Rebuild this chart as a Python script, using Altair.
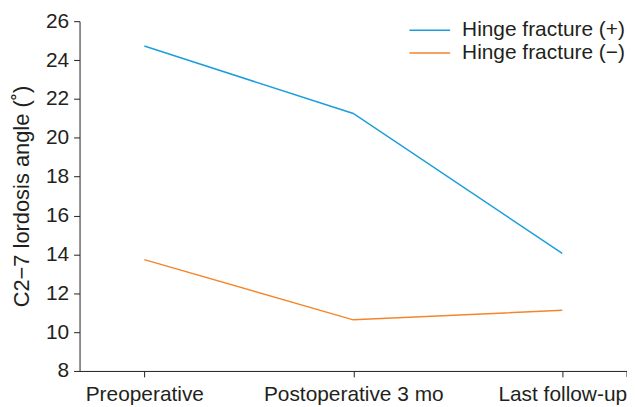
import altair as alt
import pandas as pd

timepoints = ["Preoperative", "Postoperative 3 mo", "Last follow-up"]
series = ["Hinge fracture (+)", "Hinge fracture (\u2212)"]
hinge_plus = [24.72, 21.25, 14.05]
hinge_minus = [13.73, 10.63, 11.12]
colors = ["#1b9fdc", "#f5852a"]
y_ticks = [8, 10, 12, 14, 16, 18, 20, 22, 24, 26]

rows = []
for t, v in zip(timepoints, hinge_plus):
    rows.append({"time": t, "series": series[0], "value": v})
for t, v in zip(timepoints, hinge_minus):
    rows.append({"time": t, "series": series[1], "value": v})
df = pd.DataFrame(rows)

W, H = 551, 352
FONT = "Liberation Sans"
INK = "#231f20"
FS = 21

lines = alt.Chart(df).mark_line(strokeWidth=1.5).encode(
    x=alt.X("time:N", sort=timepoints,
            scale=alt.Scale(type="point", domain=timepoints, padding=0.31),
            axis=alt.Axis(title=None, labelAngle=0, tickSize=6, labelPadding=7,
                          labelFontSize=FS, labelFont=FONT, labelColor=INK,
                          labelLimit=400, labelOverlap=False,
                          domainColor=INK, tickColor=INK)),
    y=alt.Y("value:Q",
            scale=alt.Scale(domain=[8, 26], nice=False, zero=False),
            axis=alt.Axis(values=y_ticks, title="C2\u22127 lordosis angle (\u02da)",
                          tickSize=6, labelPadding=5, labelFontSize=FS, labelFont=FONT,
                          labelColor=INK, titleFontSize=22, titleFont=FONT,
                          titleFontWeight="normal", titleColor=INK, titlePadding=12,
                          domainColor=INK, tickColor=INK)),
    color=alt.Color("series:N", scale=alt.Scale(domain=series, range=colors), legend=None),
    detail="series:N",
)

# end tick at right edge of x axis
end_tick = alt.Chart(pd.DataFrame({"a": [0]})).mark_rule(color=INK, strokeWidth=1).encode(
    x=alt.value(W), y=alt.value(H), y2=alt.value(H + 6)
)

legend_layers = []
for i, (name, col) in enumerate(zip(series, colors)):
    ld = pd.DataFrame({"series": [name]})
    yy = 9 + i * 23
    legend_layers.append(
        alt.Chart(ld).mark_rule(color=col, strokeWidth=1.5).encode(
            x=alt.value(332), x2=alt.value(373), y=alt.value(yy)
        )
    )
    legend_layers.append(
        alt.Chart(ld).mark_text(align="left", baseline="middle", fontSize=FS,
                                font=FONT, color=INK).encode(
            x=alt.value(385), y=alt.value(yy), text="series:N"
        )
    )

chart = alt.layer(lines, end_tick, *legend_layers).properties(
    width=W, height=H,
    autosize=alt.AutoSizeParams(type="none"),
    padding={"left": 72, "top": 12, "right": 0, "bottom": 35},
).configure_view(stroke=None).configure_axis(grid=False)

chart.save("out.html", embed_options={"renderer": "svg", "actions": False})
